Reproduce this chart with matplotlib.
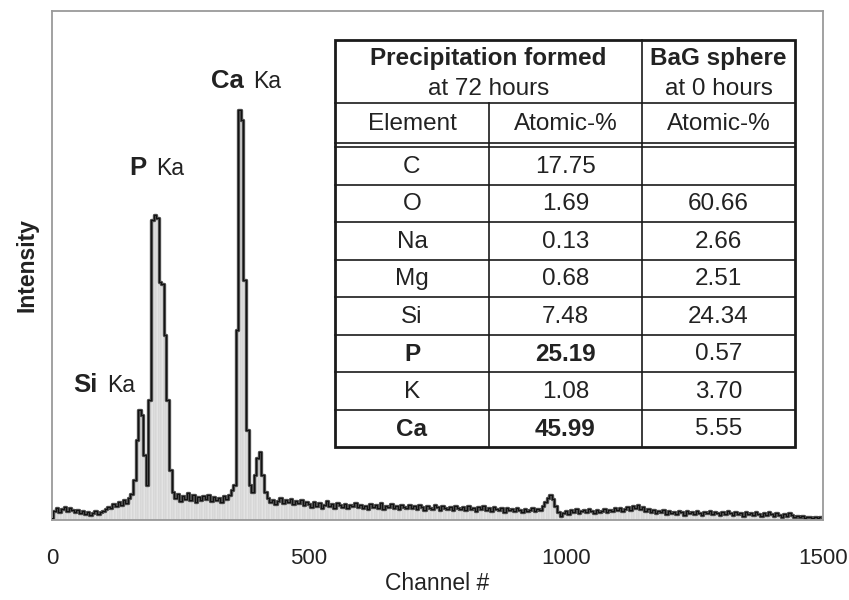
import numpy as np
import matplotlib
matplotlib.use("Agg")
import matplotlib.pyplot as plt

plt.rcParams["font.family"] = ["Liberation Sans", "DejaVu Sans"]

# EDS spectrum, counts every 5 channels
channels = np.arange(0, 1500, 5)
counts = [
    # 0 - 95
    2, 9, 12, 8, 11, 13, 9, 12, 10, 8, 10, 7, 9, 6, 8, 5, 7, 9, 6, 8,
    # 100 - 195
    9, 11, 13, 12, 16, 14, 18, 15, 20, 17, 22, 26, 40, 80, 110, 105, 65, 35, 120, 300,
    # 200 - 295
    305, 302, 238, 236, 185, 120, 50, 28, 22, 26, 19, 24, 21, 27, 20, 25, 18, 23, 20, 24,
    # 300 - 395
    21, 25, 19, 23, 20, 22, 18, 24, 21, 25, 30, 35, 190, 410, 400, 240, 90, 35, 28, 45,
    # 400 - 495
    62, 68, 45, 28, 22, 18, 20, 16, 19, 22, 17, 20, 18, 21, 16, 19, 17, 20, 15, 18,
    # 500 - 595
    16, 13, 18, 14, 17, 12, 15, 19, 14, 16, 12, 17, 15, 13, 16, 12, 15, 14, 17, 13,
    # 600 - 695
    15, 12, 14, 11, 16, 13, 15, 12, 17, 11, 14, 13, 16, 12, 14, 11, 15, 13, 12, 15,
    # 700 - 795
    12, 14, 11, 15, 13, 10, 14, 12, 11, 15, 13, 10, 14, 12, 11, 13, 10, 14, 12, 11,
    # 800 - 895
    13, 10, 14, 11, 12, 9, 13, 11, 14, 10, 12, 9, 13, 11, 10, 12, 8, 12, 10, 11,
    # 900 - 995
    9, 12, 10, 8, 11, 9, 10, 12, 9, 11, 10, 14, 18, 22, 25, 21, 14, 8, 4, 7,
    # 1000 - 1095
    9, 6, 10, 8, 11, 7, 9, 10, 8, 11, 9, 7, 10, 8, 9, 11, 8, 10, 9, 12,
    # 1100 - 1195
    10, 12, 9, 11, 13, 10, 14, 12, 15, 11, 13, 9, 11, 8, 10, 7, 9, 8, 10, 6,
    # 1200 - 1295
    9, 7, 8, 6, 9, 8, 5, 9, 7, 8, 6, 9, 7, 5, 8, 7, 9, 6, 8, 7,
    # 1300 - 1395
    5, 8, 6, 9, 7, 5, 8, 6, 7, 4, 8, 6, 7, 5, 8, 6, 4, 7, 5, 8,
    # 1400 - 1495
    6, 4, 7, 5, 3, 6, 4, 7, 5, 3, 4, 3, 4, 2, 3, 3, 2, 3, 2, 3,
]

# peak labels: (element, channel, height)
peak_labels = [("Si", 99, 128), ("P", 195, 345), ("Ca", 384, 432)]

# table
elements = ["C", "O", "Na", "Mg", "Si", "P", "K", "Ca"]
precip_72h = ["17.75", "1.69", "0.13", "0.68", "7.48", "25.19", "1.08", "45.99"]
bag_0h = ["", "60.66", "2.66", "2.51", "24.34", "0.57", "3.70", "5.55"]
bold_rows = ["P", "Ca"]

fig = plt.figure(figsize=(8.49, 6), dpi=100)
ax = fig.add_axes([52 / 849, 80 / 600, 771 / 849, 509 / 600])

ax.bar(channels, counts, width=5, align="center", color="#e3e3e3",
       edgecolor="#c4c4c4", linewidth=0.3, zorder=1)
ax.plot(channels, counts, drawstyle="steps-mid", color="#4a4a4a", lw=2.4, zorder=2)
ax.plot(channels, counts, drawstyle="steps-mid", color="#111111", lw=0.7, zorder=3)

ax.set_xlim(0, 1500)
ax.set_ylim(0, 509)
ax.set_xticks([0, 500, 1000, 1500])
ax.set_yticks([])
ax.tick_params(axis="x", length=0, pad=20, labelsize=16, labelcolor="#222222")
for s in ax.spines.values():
    s.set_color("#9a9a9a")
    s.set_linewidth(1.3)
ax.set_xlabel("Channel #", fontsize=16.5, color="#222222", labelpad=2)
ax.set_ylabel("Intensity", fontsize=16.5, fontweight="bold", color="#222222", labelpad=10)

for el, ch, h in peak_labels:
    ax.annotate(el, (ch, h), xytext=(-4, 0), textcoords="offset points",
                ha="right", va="baseline", fontsize=18.5, fontweight="bold",
                color="#222222")
    ax.annotate("Ka", (ch, h), xytext=(3, 0), textcoords="offset points",
                ha="left", va="baseline", fontsize=16.5, color="#222222")

# table drawn in pixel coordinates on an overlay
tx = fig.add_axes([0, 0, 1, 1], zorder=5)
tx.set_xlim(0, 849)
tx.set_ylim(600, 0)
tx.axis("off")

left, c1, c2, right = 335, 489, 642, 795
top, h1, h2, d2 = 40, 103, 143, 147
row_h = (447 - d2) / len(elements)
bottom = d2 + row_h * len(elements)
lc = "#1a1a1a"

tx.add_patch(plt.Rectangle((left, top), right - left, bottom - top,
                           facecolor="white", edgecolor="none"))
thin = 1.2
tx.plot([left, right], [h1, h1], color=lc, lw=thin)
tx.plot([left, right], [h2, h2], color=lc, lw=thin)
tx.plot([left, right], [d2, d2], color=lc, lw=thin)
for i in range(1, len(elements)):
    y = d2 + i * row_h
    tx.plot([left, right], [y, y], color=lc, lw=thin)
tx.plot([c1, c1], [h1, bottom], color=lc, lw=thin)
tx.plot([c2, c2], [top, bottom], color=lc, lw=thin)
tx.add_patch(plt.Rectangle((left, top), right - left, bottom - top,
                           facecolor="none", edgecolor=lc, lw=2.0))

fs = 17.5
tx.text((left + c2) / 2, 58, "Precipitation formed", ha="center", va="center",
        fontsize=fs, fontweight="bold", color="#222222")
tx.text((left + c2) / 2, 89, "at 72 hours", ha="center", va="center",
        fontsize=fs, color="#222222")
tx.text((c2 + right) / 2, 58, "BaG sphere", ha="center", va="center",
        fontsize=fs, fontweight="bold", color="#222222")
tx.text((c2 + right) / 2, 89, "at 0 hours", ha="center", va="center",
        fontsize=fs, color="#222222")
for xc, s in [((left + c1) / 2, "Element"), ((c1 + c2) / 2, "Atomic-%"),
              ((c2 + right) / 2, "Atomic-%")]:
    tx.text(xc, (h1 + h2) / 2 + 1, s, ha="center", va="center", fontsize=fs,
            color="#222222")

for i, (el, p, b) in enumerate(zip(elements, precip_72h, bag_0h)):
    yc = d2 + (i + 0.5) * row_h + 1
    w = "bold" if el in bold_rows else "normal"
    tx.text((left + c1) / 2, yc, el, ha="center", va="center", fontsize=fs,
            fontweight=w, color="#222222")
    tx.text((c1 + c2) / 2, yc, p, ha="center", va="center", fontsize=fs,
            fontweight=w, color="#222222")
    tx.text((c2 + right) / 2, yc, b, ha="center", va="center", fontsize=fs,
            color="#222222")

fig.savefig("out.png", dpi=100)
